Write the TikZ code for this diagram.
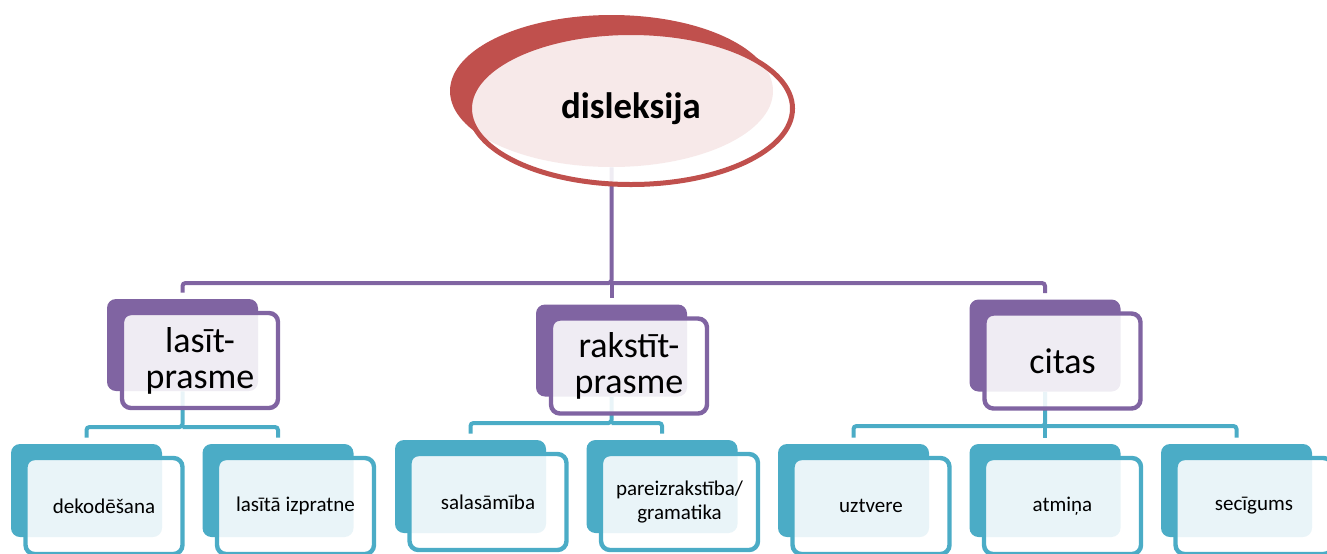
\documentclass[tikz,border=0pt]{standalone}
\usepackage{fontspec}
\setmainfont{Carlito}
\usetikzlibrary{shapes.geometric, positioning}
\definecolor{redC}{HTML}{C0504D}
\definecolor{purpleC}{HTML}{8064A2}
\definecolor{blueC}{HTML}{4BACC6}
\tikzstyle{rootback} = [ellipse, fill=redC, minimum width=161.5pt, minimum height=76pt, inner sep=0pt]
\tikzstyle{rootfront} = [ellipse, draw=redC, line width=2.5pt, fill=white, fill opacity=0.88, text opacity=1, minimum width=161.5pt, minimum height=76pt, inner sep=0pt, font=\fontsize{18.4}{22}\selectfont\bfseries]
\tikzstyle{pback} = [rectangle, rounded corners=4.5pt, fill=purpleC, minimum width=75.5pt, minimum height=46pt, inner sep=0pt]
\tikzstyle{pfront} = [rectangle, rounded corners=4.5pt, draw=purpleC, line width=2.2pt, fill=white, fill opacity=0.88, text opacity=1, minimum width=78pt, minimum height=47.5pt, inner sep=0pt, align=center, font=\fontsize{18}{18}\selectfont]
\tikzstyle{bback} = [rectangle, rounded corners=4.5pt, fill=blueC, minimum width=75.5pt, minimum height=46.5pt, inner sep=0pt]
\tikzstyle{bfront} = [rectangle, rounded corners=4.5pt, draw=blueC, line width=2.2pt, fill=white, fill opacity=0.88, text opacity=1, minimum width=78.5pt, minimum height=48pt, inner sep=0pt, align=center, font=\fontsize{10.5}{12.5}\selectfont]
\tikzstyle{pline} = [purpleC, line width=2pt, rounded corners=1.5pt, shorten >=3pt]
\tikzstyle{bline} = [blueC, line width=2pt, rounded corners=1.5pt, shorten >=3pt]

\begin{document}
\begin{tikzpicture}[x=0.5pt, y=-0.5pt, node distance=95.75pt]
      \useasboundingbox (0,0) rectangle (1327,553);
      % back shapes
      \node (dis) [rootback] at (611.5,91) {};
      \node (las) [pback] at (182.5,345) {};
      \node (rak) [pback] at (611.5,350.5) {};
      \node (cit) [pback] at (1045,345.5) {};
      \node (dek) [bback] at (86.5,490.5) {};
      \node (liz) [bback, right of=dek] {};
      \node (sal) [bback] at (470.5,486.5) {};
      \node (par) [bback, right of=sal] {};
      \node (uzt) [bback] at (853.5,490.5) {};
      \node (atm) [bback, right of=uzt] {};
      \node (sec) [bback, right of=atm] {};
      % connectors
      \coordinate (pj) at (611.5,283);
      \coordinate (lj) at (182.5,427);
      \coordinate (rj) at (611.5,423);
      \coordinate (cj) at (1045,426);
      \draw [pline] (dis.south) -- (pj) -| (las.north);
      \draw [pline] (pj) -- (rak.north);
      \draw [pline] (pj) -| (cit.north);
      \draw [bline] (las.south) -- (lj) -| (dek.north);
      \draw [bline] (lj) -| (liz.north);
      \draw [bline] (rak.south) -- (rj) -| (sal.north);
      \draw [bline] (rj) -| (par.north);
      \draw [bline] (cit.south) -- (cj) -| (uzt.north);
      \draw [bline] (cj) -- (atm.north);
      \draw [bline] (cj) -| (sec.north);
      % front shapes
      \node (disF) [rootfront, xshift=9.75pt, yshift=-8.75pt] at (dis) {disleksija};
      \node (lasF) [pfront, xshift=8.75pt, yshift=-7.75pt] at (las) {lasīt-\\prasme};
      \node (rakF) [pfront, xshift=8.75pt, yshift=-7.75pt] at (rak) {rakstīt-\\prasme};
      \node (citF) [pfront, xshift=8.75pt, yshift=-7.75pt] at (cit) {citas};
      \node (dekF) [bfront, xshift=8.75pt, yshift=-7.75pt] at (dek) {dekodēšana};
      \node (lizF) [bfront, xshift=8.75pt, yshift=-7.75pt] at (liz) {lasītā izpratne};
      \node (salF) [bfront, xshift=8.75pt, yshift=-7.75pt] at (sal) {salasāmība};
      \node (parF) [bfront, xshift=8.75pt, yshift=-7.75pt] at (par) {pareizrakstība/\\gramatika};
      \node (uztF) [bfront, xshift=8.75pt, yshift=-7.75pt] at (uzt) {uztvere};
      \node (atmF) [bfront, xshift=8.75pt, yshift=-7.75pt] at (atm) {atmiņa};
      \node (secF) [bfront, xshift=8.75pt, yshift=-7.75pt] at (sec) {secīgums};
\end{tikzpicture}
\end{document}
